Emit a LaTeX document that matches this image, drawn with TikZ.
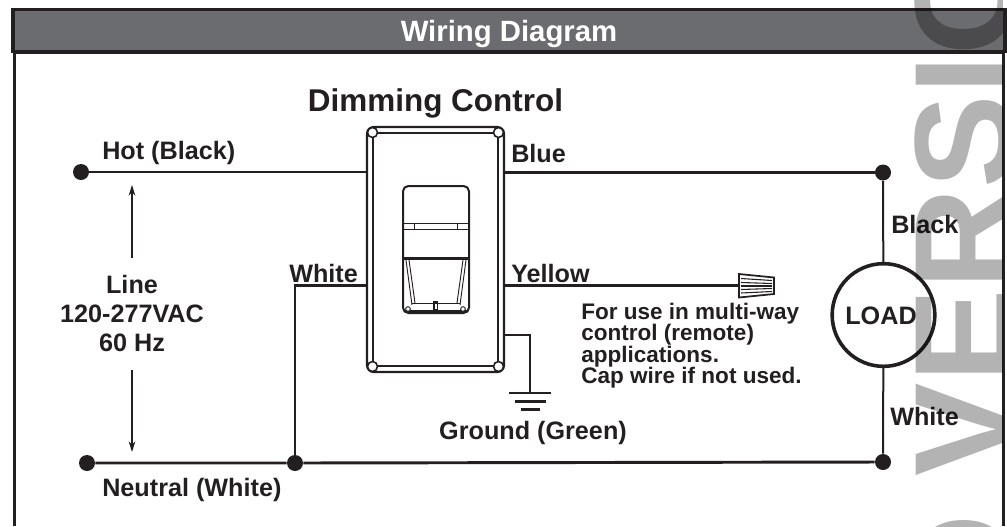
\documentclass[tikz,border=0pt]{standalone}
\usepackage{fontspec}
\setmainfont{Liberation Sans}
\usetikzlibrary{arrows.meta}
\definecolor{ink}{HTML}{231F20}
\definecolor{hdr}{HTML}{6B6C6F}
\definecolor{wm}{HTML}{B3B3B3}
\tikzset{
  wire/.style={draw=ink,line width=2.2pt},
  thinwire/.style={draw=ink,line width=1.5pt},
  dotnode/.style={circle,fill=ink,inner sep=0pt,minimum size=12pt},
  lab/.style={font=\bfseries\fontsize{18.9}{21}\selectfont,text=ink,inner sep=0pt,anchor=west},
  note/.style={font=\bfseries\fontsize{16.9}{15.9}\selectfont,text=ink,inner sep=0pt,anchor=north west,align=left},
  plate/.style={draw=ink,line width=1.6pt,rounded corners=5pt},
  fine/.style={draw=ink,line width=0.7pt},
  gnd/.style={draw=ink,line width=1.9pt},
  dimarrow/.style={draw=ink,line width=0.8pt,-{Stealth[length=8pt,width=5pt]}},
  wmletter/.style={inner sep=0pt,anchor=base west,rotate=90,text=wm,font=\bfseries\fontsize{105}{110}\selectfont},
}
\begin{document}
\begin{tikzpicture}[x=0.75pt,y=-0.75pt]
\useasboundingbox (0,0) rectangle (1007,526);
% frame
\draw[draw=ink,line width=2pt] (14.5,50) -- (14.5,526);
\draw[draw=ink,line width=2pt] (1003.5,50) -- (1003.5,526);
% header
\fill[fill=hdr] (13,9) rectangle (1005,52);
\draw[draw=ink,line width=2.4pt] (13,52.5) -- (13,9.5) -- (1005,9.5) -- (1005,52.5);
\draw[draw=ink,line width=2.4pt] (13,52) -- (1005,52);
\node[font=\bfseries\fontsize{22}{24}\selectfont,text=white,inner sep=0pt] (title) at (509,34) {Wiring Diagram};
\node[font=\bfseries\fontsize{23.6}{26}\selectfont,text=ink,inner sep=0pt] (heading) at (435.5,103.5) {Dimming Control};
% switch plate
\node[plate,minimum width=102.75pt,minimum height=183.75pt,inner sep=0pt] (sw) at (435.5,249.5) {};
\node[draw=ink,line width=1.1pt,minimum width=93.75pt,minimum height=174.75pt,inner sep=0pt] (swin) at (435.5,249.5) {};
\foreach \px/\py/\n in {372.5/132.5/a,498.5/132.5/b,372.5/366.5/c,498.5/366.5/d}{
  \node[circle,draw=ink,fill=white,line width=1.2pt,minimum size=7.5pt,inner sep=0pt] (c\n) at (\px,\py) {};
}
% paddle
\node[draw=ink,line width=1.5pt,rounded corners=4pt,minimum width=49.5pt,minimum height=95.25pt,inner sep=0pt] (pad) at (436,249.5) {};
\draw[fine] (404,223) -- (468,223) (404,229.5) -- (468,229.5) (414.5,223) -- (414.5,229.5) (457,223) -- (457,229.5);
\draw[draw=ink,line width=1.8pt] (404,258.5) -- (468,258.5);
\draw[fine] (406,260) -- (412,305) (409,260) -- (415,303) (466,260) -- (460,305) (463,260) -- (457,303);
\draw[fine] (412,303.5) -- (460,303.5);
\draw[draw=ink,line width=2.2pt] (405,311.5) -- (467,311.5);
\draw[draw=ink,line width=1pt] (434,302) rectangle (437.5,310);
\node[circle,draw=ink,fill=white,line width=0.7pt,minimum size=3.5pt,inner sep=0pt] (pl) at (408,309) {};
\node[circle,draw=ink,fill=white,line width=0.7pt,minimum size=3.5pt,inner sep=0pt] (pr) at (463,309) {};
% terminals
\node[dotnode] (hot) at (81,172) {};
\node[dotnode] (neu) at (87,463) {};
\node[dotnode] (tap) at (295,463) {};
\node[dotnode] (rt) at (883,172.5) {};
\node[dotnode] (rb) at (883,462) {};
\node[circle,draw=ink,line width=2.7pt,minimum size=77pt,inner sep=0pt,fill=white] (load) at (883.5,315) {};
\node[font=\bfseries\fontsize{18.9}{21}\selectfont,text=ink,inner sep=0pt] (loadtxt) at (881,315.5) {LOAD};
\coordinate (swHot) at (367,172);
\coordinate (swBlue) at (504,172.5);
\coordinate (swWhite) at (367,285.5);
\coordinate (swYellow) at (504,285.5);
\coordinate (swGnd) at (504,335);
\coordinate (gndTop) at (530,393);
\coordinate (whiteCorner) at (295,285.5);
\coordinate (gndCorner) at (530,335);
% wires
\draw[wire] (hot) -- (swHot);
\draw[wire] (swBlue) -- (rt);
\draw[wire] (swWhite) -- (whiteCorner) -- (tap);
\draw[wire] (neu) -- (tap) -- (rb);
\draw[wire] (swYellow) -- (739,285.5);
\draw[thinwire] (rt) -- (load);
\draw[thinwire] (load) -- (rb);
\draw[wire] (swGnd) -- (gndCorner) -- (gndTop);
% ground symbol
\draw[gnd] (509,393) -- (551,393);
\draw[gnd] (515,401.5) -- (546,401.5);
\draw[gnd] (520.5,409.5) -- (540,409.5);
% wire nut
\draw[draw=ink,line width=1.3pt,fill=white] (739,274) -- (774,277.5) -- (774,294) -- (739,297.5) -- cycle;
\foreach \ly/\ry in {278.5/280.5,282.5/283.5,286/286,289.5/288.5,293/291.5}{
  \draw[draw=ink,line width=0.8pt] (741,\ly) -- (772,\ry);
}
% labels
\node[lab] (lHot) at (102,153) {Hot (Black)};
\node[lab] (lBlue) at (511,153) {Blue};
\node[lab] (lWhite) at (289,273.5) {White};
\node[lab] (lYellow) at (511,273) {Yellow};
\node[lab] (lNeu) at (102,489.5) {Neutral (White)};
\node[lab] (lBlack) at (891,224) {Black};
\node[lab] (lWhite2) at (890,416) {White};
\node[font=\bfseries\fontsize{18.9}{22}\selectfont,text=ink,inner sep=0pt,align=center] (line) at (132,313.5) {Line\\120-277VAC\\60 Hz};
\node[lab,anchor=center] (lGnd) at (533,433) {Ground (Green)};
\node[note] (nUse) at (581,303) {For use in multi-way\\control (remote)\\applications.\\Cap wire if not used.};
\coordinate (upA) at (132,258);
\coordinate (upB) at (132,185);
\coordinate (dnA) at (132,370);
\coordinate (dnB) at (132,452);
\draw[dimarrow] (upA) -- (upB);
\draw[dimarrow] (dnA) -- (dnB);
% watermark
\begin{scope}[blend mode=multiply]
\clip (906,0) rectangle (1002,526);
\node[wmletter] (wmk) at (1012,624) {O VERSIO};
\end{scope}
\end{tikzpicture}
\end{document}
